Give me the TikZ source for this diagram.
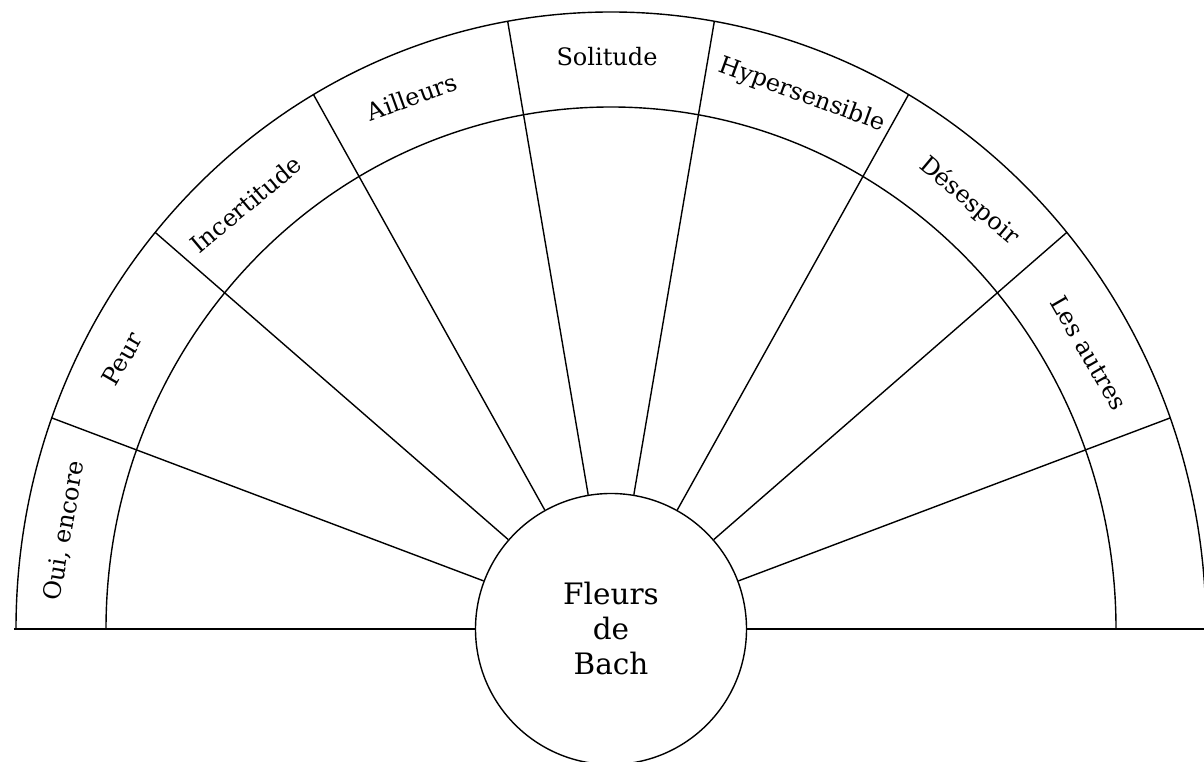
\documentclass[tikz,border=0pt]{standalone}
\usepackage{fontspec}
\setmainfont{DejaVu Serif}
\usetikzlibrary{calc}
\begin{document}
\begin{tikzpicture}[x=1pt,y=1pt,line width=1.4pt,
  lbl/.style={font=\fontsize{24}{28}\selectfont, inner sep=0pt, anchor=center},
  hub/.style={circle, draw, fill=white, minimum size=271pt, inner sep=0pt, align=center,
    font=\fontsize{29.5}{35}\selectfont}]
\useasboundingbox (0,0) rectangle (1204,762);
\fill[white] (0,0) rectangle (1204,762);
\coordinate (O) at (611,133);
\node[hub] (c) at (O) {Fleurs\\de\\Bach};
% arcs
\draw ($(O)+(0:595 and 617)$) arc[start angle=0,end angle=180,x radius=595,y radius=617];
\draw ($(O)+(0:505 and 522)$) arc[start angle=0,end angle=180,x radius=505,y radius=522];
% baseline
\coordinate (bl) at ($(O)+(180:597 and 617)$);
\coordinate (br) at ($(O)+(0:597 and 617)$);
\draw (bl) -- (c);
\draw (c) -- (br);
% spokes
\foreach \t in {20,40,...,160}{
  \coordinate (o\t) at ($(O)+(\t:595 and 617)$);
  \draw (c) -- (o\t);
}
% labels
\foreach \t/\x/\y/\txt in {170/65/231/{Oui, encore},150/122/403/Peur,130/246/558/Incertitude,
  110/412/665/Ailleurs,90/607/705/Solitude,70/802/667/Hypersensible,50/969/561/Désespoir,
  30/1089/409/Les autres}{
  \node[lbl, rotate=\t-90] (l\t) at (\x,\y) {\txt};
}
\end{tikzpicture}
\end{document}
